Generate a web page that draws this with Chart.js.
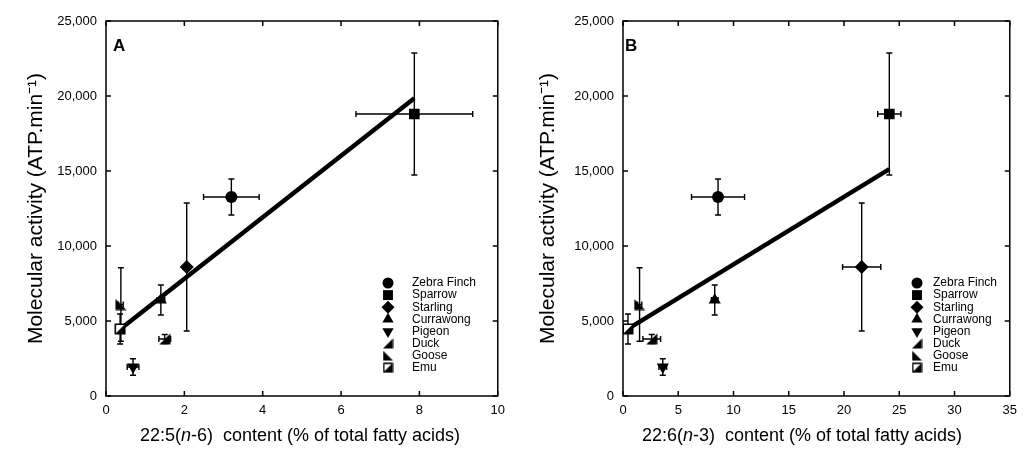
<!DOCTYPE html>
<html>
<head>
<meta charset="utf-8">
<script src="https://cdn.jsdelivr.net/npm/chart.js@4.4.1/dist/chart.umd.min.js"></script>
<style>
  body { margin: 0; background: #fff; }
  #wrap { display: flex; width: 1024px; height: 452px; }
  .panel { position: relative; width: 512px; height: 452px; }
</style>
</head>
<body>
<div id="wrap">
  <div class="panel"><canvas id="chartA" width="512" height="452"></canvas></div>
  <div class="panel"><canvas id="chartB" width="512" height="452"></canvas></div>
</div>
<script>
const species = ['Zebra Finch', 'Sparrow', 'Starling', 'Currawong', 'Pigeon', 'Duck', 'Goose', 'Emu'];
const activity = [13270, 18800, 8600, 6400, 1930, 3800, 6100, 4470];
const activityErr = [1200, 4070, 4270, 1000, 550, 300, 2450, 1000];

// panel A: 22:5(n-6)
const dpaContent = [3.2, 7.87, 2.06, 1.40, 0.69, 1.50, 0.38, 0.36];
const dpaErr = [0.71, 1.49, 0.04, 0.1, 0.15, 0.15, 0.06, 0.05];
// panel B: 22:6(n-3)
const dhaContent = [8.6, 24.1, 21.6, 8.3, 3.6, 2.6, 1.5, 0.45];
const dhaErr = [2.4, 1.05, 1.73, 0.3, 0.35, 0.8, 0.2, 0.3];

// regression lines (end points)
const fitAx = [0.36, 7.87];
const fitAy = [4450, 19850];
const fitBx = [0.45, 24.1];
const fitBy = [4470, 15130];

const yTicks = [0, 5000, 10000, 15000, 20000, 25000];
const xTicksA = [0, 2, 4, 6, 8, 10];
const xTicksB = [0, 5, 10, 15, 20, 25, 30, 35];

Chart.defaults.font.family = '"Liberation Sans", Arial, sans-serif';
Chart.defaults.color = '#000';

// custom marker shapes for Duck, Goose and Emu
function makeMarker(kind, s) {
  const c = document.createElement('canvas');
  c.width = s; c.height = s;
  const g = c.getContext('2d');
  g.fillStyle = '#000';
  g.strokeStyle = '#000';
  g.lineWidth = 1.5;
  const a = 0.5, b = s - 0.5;
  g.beginPath();
  if (kind === 'duck') {
    g.moveTo(b, a); g.lineTo(b, b); g.lineTo(a, b); g.closePath(); g.fill();
  } else if (kind === 'goose') {
    g.moveTo(a, a); g.lineTo(a, b); g.lineTo(b, b); g.closePath(); g.fill();
  } else {
    g.fillStyle = '#fff';
    g.fillRect(1, 1, s - 2, s - 2);
    g.strokeRect(1.25, 1.25, s - 2.5, s - 2.5);
    g.fillStyle = '#000';
    g.beginPath(); g.moveTo(s - 1, 1); g.lineTo(s - 1, s - 1); g.lineTo(1, s - 1); g.closePath(); g.fill();
  }
  return c;
}

function markerSet(s) {
  return {
    styles: ['circle', 'rect', 'rectRot', 'triangle', 'triangle', makeMarker('duck', s), makeMarker('goose', s), makeMarker('emu', s)],
    rot: [0, 0, 0, 0, 180, 0, 0, 0]
  };
}
const plotMarks = markerSet(12);
const legendMarks = markerSet(11);
const plotRadius = [6, 7.5, 7, 7, 7, 6, 6, 6];
const legendRadius = [5.5, 7, 6.5, 6.5, 6.5, 5, 5, 5];

const errorBars = {
  id: 'errorBars',
  beforeDatasetsDraw(chart, args, opts) {
    const { ctx } = chart;
    const x = chart.scales.x, y = chart.scales.y;
    const cap = 3;
    ctx.save();
    ctx.strokeStyle = '#000';
    ctx.lineWidth = 1.4;
    opts.xs.forEach((xv, i) => {
      const px = x.getPixelForValue(xv);
      const py = y.getPixelForValue(activity[i]);
      const t = y.getPixelForValue(activity[i] + activityErr[i]);
      const b = y.getPixelForValue(activity[i] - activityErr[i]);
      const l = x.getPixelForValue(xv - opts.xErr[i]);
      const r = x.getPixelForValue(xv + opts.xErr[i]);
      ctx.beginPath();
      ctx.moveTo(px, t); ctx.lineTo(px, b);
      ctx.moveTo(px - cap, t); ctx.lineTo(px + cap, t);
      ctx.moveTo(px - cap, b); ctx.lineTo(px + cap, b);
      ctx.moveTo(l, py); ctx.lineTo(r, py);
      ctx.moveTo(l, py - cap); ctx.lineTo(l, py + cap);
      ctx.moveTo(r, py - cap); ctx.lineTo(r, py + cap);
      ctx.stroke();
    });
    ctx.restore();
  }
};

const frame = {
  id: 'frame',
  afterDraw(chart, args, opts) {
    const { ctx, chartArea: ca } = chart;
    const x = chart.scales.x, y = chart.scales.y;
    ctx.save();
    ctx.strokeStyle = '#000';
    ctx.lineWidth = 1.5;
    ctx.strokeRect(ca.left, ca.top, ca.right - ca.left, ca.bottom - ca.top);
    ctx.beginPath();
    const tl = 5;
    opts.xTicks.forEach(v => {
      const px = x.getPixelForValue(v);
      ctx.moveTo(px, ca.bottom); ctx.lineTo(px, ca.bottom - tl);
      ctx.moveTo(px, ca.top); ctx.lineTo(px, ca.top + tl);
    });
    yTicks.forEach(v => {
      const py = y.getPixelForValue(v);
      ctx.moveTo(ca.left, py); ctx.lineTo(ca.left + tl, py);
      ctx.moveTo(ca.right, py); ctx.lineTo(ca.right - tl, py);
    });
    ctx.stroke();

    // panel letter
    ctx.fillStyle = '#000';
    ctx.font = 'bold 17px "Liberation Sans", Arial, sans-serif';
    ctx.textBaseline = 'alphabetic';
    ctx.textAlign = 'left';
    ctx.fillText(opts.letter, 113, 51);

    // x axis title with italic n
    const parts = opts.xTitle;
    const fonts = parts.map(p => (p.italic ? 'italic ' : '') + '18px "Liberation Sans", Arial, sans-serif');
    let total = 0;
    const widths = parts.map((p, i) => { ctx.font = fonts[i]; const w = ctx.measureText(p.text).width; total += w; return w; });
    let cx = opts.xTitleCenter - total / 2;
    ctx.textBaseline = 'middle';
    parts.forEach((p, i) => { ctx.font = fonts[i]; ctx.fillText(p.text, cx, 436); cx += widths[i]; });

    // legend
    const lg = opts.legend;
    species.forEach((name, i) => {
      const ly = lg.y + i * lg.step;
      ctx.fillStyle = '#000';
      Chart.helpers.drawPoint(ctx, {
        pointStyle: legendMarks.styles[i],
        rotation: legendMarks.rot[i],
        radius: legendRadius[i],
        borderWidth: 0
      }, lg.mx, ly);
      ctx.font = '12px "Liberation Sans", Arial, sans-serif';
      ctx.textBaseline = 'middle';
      ctx.fillText(name, lg.tx, ly);
    });
    ctx.restore();
  }
};

function makePanel(id, xs, xErr, xTicks, xMax, fitX, fitY, opts) {
  const ctx = document.getElementById(id).getContext('2d');
  return new Chart(ctx, {
    type: 'scatter',
    data: {
      datasets: [{
        data: xs.map((v, i) => ({ x: v, y: activity[i] })),
        pointStyle: plotMarks.styles,
        rotation: plotMarks.rot,
        pointRadius: plotRadius,
        backgroundColor: '#000',
        borderColor: '#000',
        borderWidth: 0
      }, {
        type: 'line',
        data: fitX.map((v, i) => ({ x: v, y: fitY[i] })),
        borderColor: '#000',
        borderWidth: 4.5,
        pointRadius: 0,
        fill: false
      }]
    },
    options: {
      responsive: false,
      animation: false,
      events: [],
      layout: { padding: { top: 21, right: opts.padRight, left: 0, bottom: 0 } },
      plugins: {
        legend: { display: false },
        tooltip: { enabled: false },
        errorBars: { xs: xs, xErr: xErr },
        frame: { xTicks: xTicks, letter: opts.letter, xTitle: opts.xTitle, xTitleCenter: opts.xTitleCenter, legend: opts.legend }
      },
      scales: {
        x: {
          type: 'linear', min: 0, max: xMax,
          afterBuildTicks: s => { s.ticks = xTicks.map(v => ({ value: v })); },
          afterFit: s => { s.height = 56; },
          grid: { display: false, drawTicks: false },
          border: { display: false },
          ticks: { font: { size: 13 }, padding: 7, color: '#000', autoSkip: false, maxRotation: 0 }
        },
        y: {
          type: 'linear', min: 0, max: 25000,
          afterBuildTicks: s => { s.ticks = yTicks.map(v => ({ value: v })); },
          afterFit: s => { s.width = opts.yWidth; },
          grid: { display: false, drawTicks: false },
          border: { display: false },
          ticks: { font: { size: 13 }, padding: 9, color: '#000', autoSkip: false,
                   callback: v => v.toLocaleString('en-US') },
          title: { display: true, text: 'Molecular activity (ATP.min\u207B\u00B9)',
                   font: { size: 21 }, color: '#000', padding: { top: 24, bottom: 0 } }
        }
      }
    },
    plugins: [errorBars, frame]
  });
}

const chartA = makePanel('chartA', dpaContent, dpaErr, xTicksA, 10, fitAx, fitAy, {
  padRight: 12, yWidth: 106, letter: 'A', xTitleCenter: 300,
  xTitle: [{ text: '22:5(' }, { text: 'n', italic: true }, { text: '-6)  content (% of total fatty acids)' }],
  legend: { mx: 388, tx: 412, y: 283, step: 12.1 }
});
const chartB = makePanel('chartB', dhaContent, dhaErr, xTicksB, 35, fitBx, fitBy, {
  padRight: 9, yWidth: 111, letter: 'B', xTitleCenter: 290,
  xTitle: [{ text: '22:6(' }, { text: 'n', italic: true }, { text: '-3)  content (% of total fatty acids)' }],
  legend: { mx: 405, tx: 421, y: 283, step: 12.1 }
});
</script>
</body>
</html>
